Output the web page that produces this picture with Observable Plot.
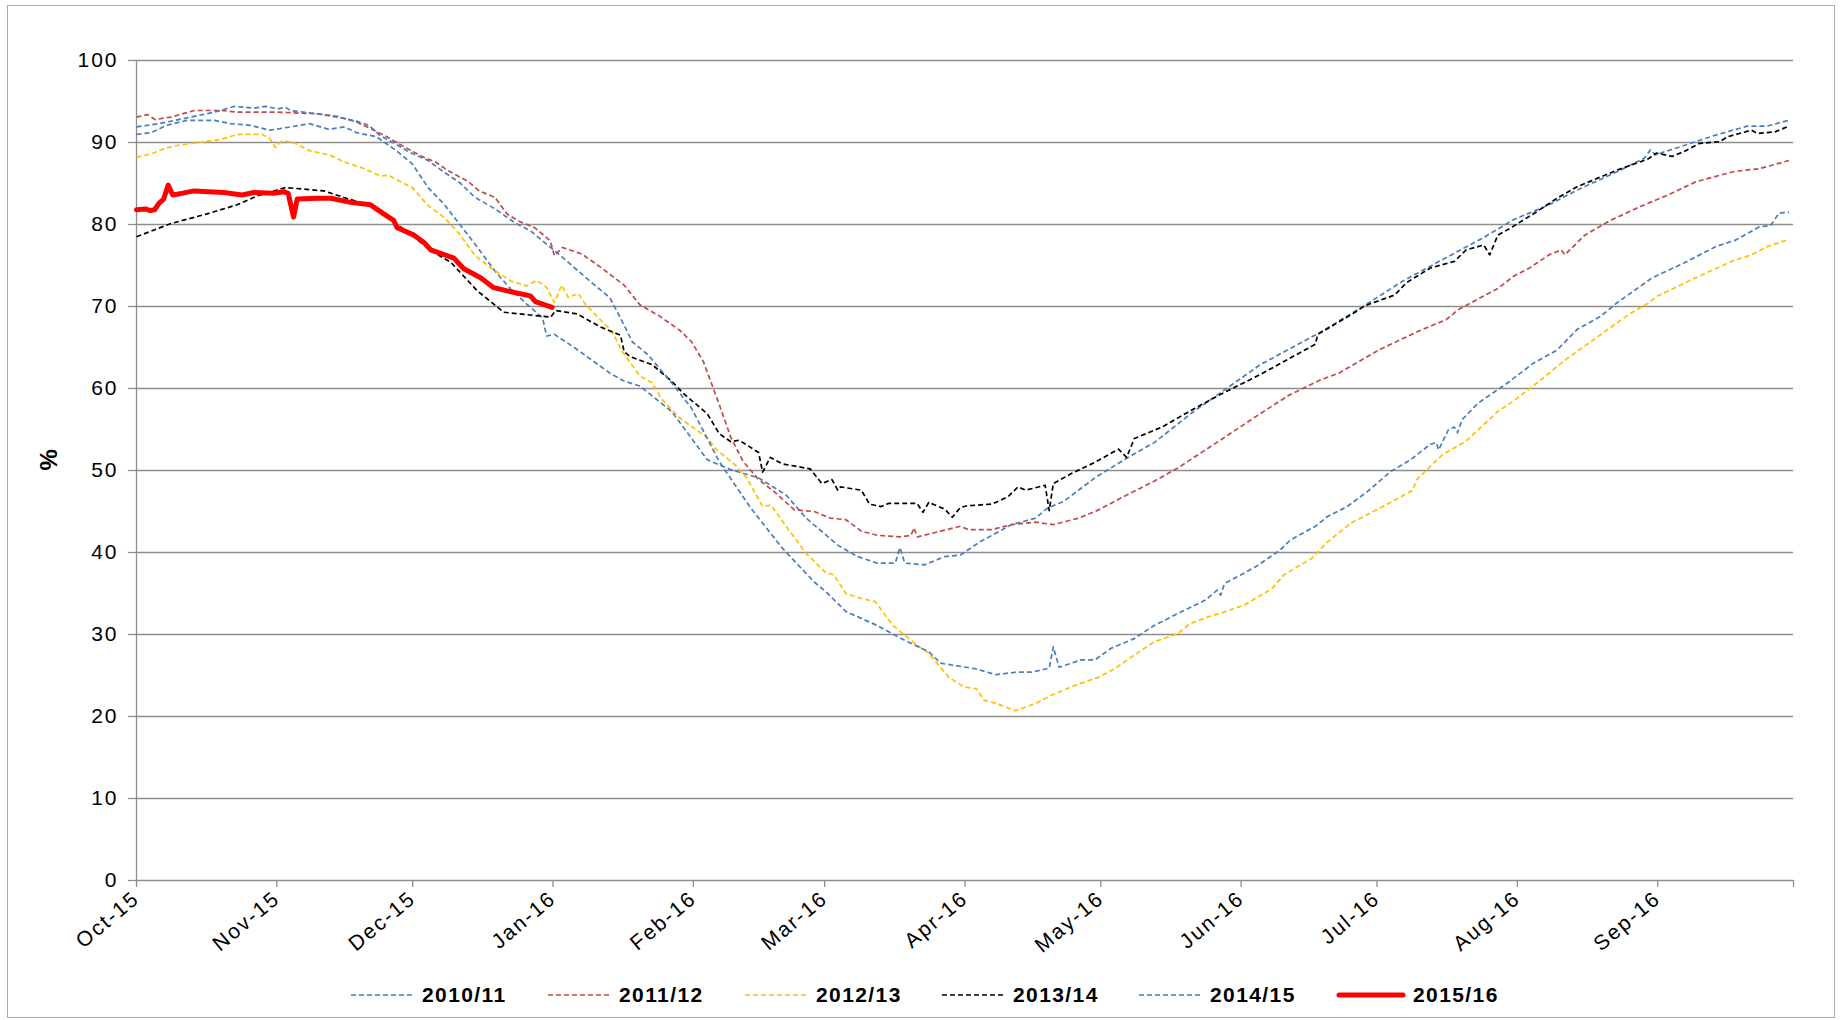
<!DOCTYPE html>
<html>
<head>
<meta charset="utf-8">
<script src="https://cdn.jsdelivr.net/npm/d3@7"></script>
<script src="https://cdn.jsdelivr.net/npm/@observablehq/plot@0.6"></script>
<style>
  html, body { margin: 0; padding: 0; background: #fff; }
  #wrap { position: relative; width: 1841px; height: 1020px; overflow: hidden; font-family: "Liberation Sans", Arial, sans-serif; }
  #frame { position: absolute; left: 7px; top: 5px; width: 1828px; height: 1013px; border: 1.5px solid #ababab; box-sizing: border-box; }
  #chart { position: absolute; left: 0; top: 0; }
  #chart svg text { letter-spacing: 2px; }
  #legend { position: absolute; left: 351px; top: 983px; display: flex; align-items: center; }
  .item { display: flex; align-items: center; width: 197px; }
  .item span { font-weight: bold; font-size: 21px; letter-spacing: 1.4px; margin-left: 7px; color: #000; }
</style>
</head>
<body>
<div id="wrap">
  <div id="frame"></div>
  <div id="chart"></div>
  <div id="legend"></div>
</div>
<script>
// ---- data (day index from 1 Oct of the gas year, % full) ----
const seriesNames = ["2010/11", "2011/12", "2012/13", "2013/14", "2014/15", "2015/16"];
const seriesColors = ["#4A7EBB", "#BE4B48", "#FFC000", "#000000", "#4A7EBB", "#FF0000"];

const s2010 = [[0,91.0],[3.2,91.2],[6.7,92.1],[11.1,92.7],[17.2,92.7],[20.7,92.3],[25.1,92.1],[29.4,91.5],[32.9,91.8],[38.2,92.3],[42.5,91.6],[46,91.9],[48.6,91.2],[53,90.7],[57.4,89.0],[60.9,87.4],[64.4,84.5],[67.9,82.5],[71.4,80.0],[74.8,77.6],[79.2,74.3],[82.7,72.1],[86.2,70.3],[89.7,68.6],[90.6,66.4],[92.3,66.6],[96.7,65.0],[101,63.3],[104.5,61.9],[107.7,60.9],[111.2,60.3],[118.2,57.2],[126.1,51.3],[131.3,50.1],[137.4,49.1],[143.5,47.0],[147.9,44.2],[154.9,40.9],[159.3,39.5],[163.6,38.7],[167.6,38.7],[168.6,40.6],[169.7,38.7],[174.1,38.5],[178.5,39.5],[182,39.7],[186.3,41.3],[193.3,43.4],[198.6,44.2],[201.2,45.4],[204.7,46.2],[211.7,49.1],[218.7,51.5],[224.8,53.4],[233.5,57.2],[239.5,59.5],[248.2,62.9],[261.3,66.8],[270.9,70.0],[279.7,73.1],[288.4,75.7],[297.2,78.3],[304.2,80.6],[312,82.4],[318.2,84.2],[326.9,86.4],[333.1,88.1],[334.4,89.1],[335.5,88.5],[344.4,90.1],[348.8,90.9],[355.8,92.0],[360.2,92.0],[364.2,92.6],[365,92.7]];

const s2011 = [[0,93.1],[2.4,93.4],[4.1,92.8],[7.6,93.1],[12.8,93.9],[18.9,93.9],[22.4,93.7],[31.2,93.7],[39.9,93.5],[44.3,93.2],[48.6,92.5],[52.1,91.6],[55.6,90.6],[60,89.2],[63.5,88.2],[66.1,87.6],[68.7,86.6],[73.1,85.3],[75.7,84.1],[79.2,83.3],[81.8,81.3],[84.5,80.4],[88,79.6],[91.4,78.0],[92.3,76.2],[94.1,77.2],[98.4,76.4],[102.5,74.8],[107.7,72.6],[111.2,70.2],[115.6,68.8],[120,67.1],[122.6,65.7],[125.2,63.3],[128.3,58.7],[131.3,54.0],[134,51.1],[137.4,48.9],[140.9,47.4],[145.3,45.2],[149.7,45.0],[153.2,44.2],[156.7,44.0],[160.1,42.6],[163.6,42.1],[168.9,41.9],[171.1,42.1],[171.7,43.0],[172.5,41.9],[177.6,42.6],[182,43.2],[183.7,42.8],[189,42.8],[193.3,43.4],[198.6,43.7],[202.5,43.4],[208.2,44.2],[212.5,45.2],[218.7,47.0],[224.8,48.7],[230,50.3],[239.4,53.7],[247.3,56.6],[254.3,59.1],[261.3,61.0],[265.7,61.9],[274.4,64.7],[283.2,67.0],[289.3,68.4],[291.9,69.6],[300.7,72.2],[304.2,73.7],[307.7,74.7],[312,76.3],[314.7,76.9],[315.5,76.3],[319.9,78.7],[325.2,80.4],[332.2,82.2],[338.3,83.6],[344.4,85.2],[349.7,86.0],[353.2,86.5],[358.4,86.8],[365,87.8]];

const s2012 = [[0,88.2],[3.2,88.6],[5.9,89.2],[8.5,89.6],[13.7,90.0],[18.9,90.4],[22.4,91.0],[27.7,91.0],[29.4,90.5],[30.7,89.4],[32.1,90.2],[34.7,90.0],[38.2,89.0],[42.5,88.5],[46,87.6],[50.4,86.8],[53.9,85.9],[55.6,86.0],[60.9,84.5],[64.4,82.3],[67.9,80.9],[71.4,78.8],[74.8,76.2],[78.3,74.7],[82.7,73.1],[86.2,72.5],[88.4,73.2],[90.6,72.3],[92.3,70.5],[93.9,72.6],[95.4,71.1],[97.6,71.6],[99.1,70.3],[102.8,68.2],[105.1,66.9],[107.3,64.5],[111.2,61.5],[113.9,60.7],[116,58.7],[120,56.4],[126.1,54.0],[127.8,52.7],[132.2,50.7],[134.8,49.1],[138.3,45.6],[140.1,45.8],[143.5,43.2],[147.9,39.9],[152.3,37.5],[154,37.3],[156.7,35.0],[160.1,34.4],[163.2,34.0],[167.1,31.1],[172.4,28.7],[175,27.7],[179.4,24.8],[182.8,23.6],[185.5,23.4],[187.2,22.0],[189.8,21.6],[194.2,20.7],[198.6,21.6],[202.1,22.6],[207.3,23.8],[212.5,24.8],[216,25.8],[220.4,27.5],[224.8,29.1],[230,30.1],[232.6,31.3],[237,32.2],[239.5,32.6],[244.7,33.6],[250.8,35.6],[253.5,37.3],[259.6,39.3],[263.1,41.3],[268.3,43.6],[275.3,45.6],[281.9,47.6],[282.8,48.9],[288.4,51.9],[293.7,53.6],[300.7,57.2],[304.2,58.5],[309.4,60.7],[315.6,63.5],[322.5,66.2],[329.5,69.0],[333.9,70.4],[335.7,71.2],[344.4,73.5],[352.3,75.5],[356.7,76.3],[360.2,77.3],[364.5,78.1]];

const s2013 = [[0,78.5],[7.5,80.1],[15.6,81.3],[22.2,82.4],[26.7,83.5],[32.9,84.5],[41.4,84.1],[45.8,83.3],[51.7,82.3],[56.1,80.6],[61.3,78.5],[65,76.8],[69.4,75.4],[75.3,71.9],[78.9,70.3],[81.1,69.3],[91.5,68.7],[92.6,69.5],[97.3,69.1],[102.5,67.5],[106.9,66.5],[107.7,64.5],[109,63.9],[113.9,62.9],[118.2,60.9],[120.8,59.4],[126.1,56.9],[128.7,54.5],[131.3,53.5],[133.1,53.7],[137.4,52.2],[138.3,49.8],[140,51.6],[142.7,50.8],[148.8,50.2],[151.4,48.4],[153.6,48.9],[154.9,47.6],[155.5,48.0],[160.1,47.6],[161.9,45.9],[164.5,45.6],[166.2,46.0],[172.4,46.0],[173.7,44.9],[175,46.1],[178.5,45.3],[180.2,44.3],[182,45.5],[183.5,45.7],[189,45.9],[192.5,46.8],[194.7,48.0],[196.4,47.6],[200.7,48.2],[201.6,45.1],[202.5,48.4],[206.4,49.6],[211.7,51.0],[216.9,52.6],[218.7,51.6],[220.4,53.9],[226.5,55.3],[233.5,57.5],[239.5,59.3],[248.2,61.7],[260.4,65.4],[260.9,66.6],[268.3,69.0],[271.4,70.1],[277.9,71.4],[280.5,72.9],[285.8,74.7],[291.1,75.5],[293.7,76.9],[297.6,77.5],[298.9,76.3],[300.7,78.7],[303.3,79.5],[309.4,81.6],[313.8,83.2],[318.2,84.6],[326.9,86.6],[333.9,88.0],[335.7,88.7],[339.2,88.3],[341.8,88.9],[345.3,89.9],[349.7,90.1],[351.4,90.7],[356.7,91.5],[358,91.1],[361.9,91.3],[365,92.0]];

const s2014 = [[0,91.9],[5,92.3],[12,93.1],[17.2,93.7],[21.6,94.4],[26,94.2],[28.6,94.4],[31.2,94.1],[32.9,94.3],[34,93.9],[39.9,93.5],[44.3,93.1],[48.6,92.6],[51.3,92.1],[53.9,90.8],[57,89.9],[60,88.9],[64.4,87.8],[67.9,86.4],[71.4,85.1],[74.8,83.3],[79.2,81.9],[83.6,80.2],[87.1,79.2],[89.7,78.0],[94.1,76.0],[97.6,74.3],[101,72.7],[104.5,71.1],[107,68.5],[109.5,65.7],[113,64.1],[118.2,60.7],[122.6,57.6],[128.7,51.1],[135.7,45.4],[142.7,40.5],[149.7,36.4],[152.3,35.2],[156.7,32.8],[163.6,31.1],[168.9,29.5],[175,27.9],[177.6,26.5],[185.5,25.8],[189.8,25.1],[194.2,25.4],[197.7,25.4],[201.6,25.9],[202.5,28.5],[203.8,26.0],[208.6,26.9],[211.7,26.9],[215.2,28.3],[220.4,29.5],[224.8,31.1],[230.9,32.8],[236.1,34.2],[238.7,35.4],[239.5,34.8],[240.3,36.2],[244.7,37.5],[247.3,38.3],[252.6,40.3],[254.8,41.5],[260.4,43.2],[263.1,44.4],[267.4,45.6],[271.8,47.4],[277.1,49.9],[281.4,51.3],[285.8,53.2],[287.1,53.4],[287.6,52.5],[289.8,55.0],[291.1,55.3],[291.8,54.6],[292.8,56.2],[296.3,58.2],[302.4,60.5],[308.6,63.1],[313.8,64.7],[318.2,67.2],[323.4,68.8],[326.9,70.4],[334.8,73.5],[341.8,75.3],[348.8,77.3],[353.2,78.1],[358.4,79.7],[361,79.9],[362.8,81.4],[365,81.5]];

const s2015 = [[0,81.8],[2,81.9],[3,81.7],[4,81.8],[5,82.6],[6,83.1],[7,84.8],[8,83.6],[10,83.8],[12.7,84.1],[16,84.0],[19.3,83.9],[23.3,83.6],[25.9,83.9],[30.3,83.8],[32.5,84.0],[33.5,83.8],[34.7,80.9],[35.5,83.1],[39.9,83.2],[42.9,83.2],[47.3,82.7],[51.7,82.4],[54.6,81.3],[56.8,80.5],[57.6,79.6],[61.3,78.7],[63.5,77.8],[65,76.9],[70.1,75.9],[72.3,74.6],[76,73.5],[78.9,72.3],[81.9,71.9],[87,71.3],[88.1,70.6],[91.8,69.9]];

const seriesValues = [s2010, s2011, s2012, s2013, s2014, s2015];

const yTicks = [0, 10, 20, 30, 40, 50, 60, 70, 80, 90, 100];
const xTickLabels = ["Oct-15", "Nov-15", "Dec-15", "Jan-16", "Feb-16", "Mar-16", "Apr-16", "May-16", "Jun-16", "Jul-16", "Aug-16", "Sep-16", ""];
const yLabel = "%";

// ---- build ----
const start = new Date(Date.UTC(2015, 9, 1));
const end = new Date(Date.UTC(2016, 9, 1));
const toDate = d => new Date(start.getTime() + d * 864e5);
const xTicks = d3.utcMonth.range(start, d3.utcDay.offset(end, 1));
const grid = "#8e8e8e";

const lineMarks = seriesValues.map((vals, i) => {
  const rows = vals.map(([d, v]) => ({date: toDate(d), value: v}));
  const last = i === seriesValues.length - 1;
  return Plot.line(rows, {
    x: "date", y: "value",
    stroke: seriesColors[i],
    strokeWidth: last ? 5 : 1.7,
    strokeDasharray: last ? null : "5,3",
    strokeLinejoin: "round",
    strokeLinecap: last ? "round" : "butt"
  });
});

const chart = Plot.plot({
  width: 1841,
  height: 960,
  marginLeft: 136,
  marginRight: 48,
  marginTop: 60,
  marginBottom: 80,
  style: {fontFamily: "'Liberation Sans', Arial, sans-serif", fontSize: "21px", color: "#000", background: "transparent", overflow: "visible"},
  x: {type: "utc", domain: [start, end]},
  y: {domain: [0, 100]},
  marks: [
    Plot.ruleY(yTicks, {stroke: grid, strokeWidth: 1.3}),
    Plot.ruleX([start], {stroke: grid, strokeWidth: 1.3}),
    Plot.axisY({ticks: yTicks, tickSize: 8, tickPadding: 10, label: null, stroke: grid, fill: "#000", strokeWidth: 1.3}),
    Plot.axisX({ticks: xTicks, tickSize: 7, tickPadding: 8, tickRotate: -40, label: null, stroke: grid, fill: "#000", strokeWidth: 1.3,
      tickFormat: d => xTickLabels[d3.utcMonth.count(start, d)] ?? ""}),
    ...lineMarks,
    Plot.text([yLabel], {frameAnchor: "left", text: d => d, dx: -87, rotate: -90, fontWeight: "bold", fontSize: 24, fill: "#000"})
  ]
});
document.getElementById("chart").appendChild(chart);

// legend
const legend = document.getElementById("legend");
seriesNames.forEach((name, i) => {
  const last = i === seriesNames.length - 1;
  const item = document.createElement("div");
  item.className = "item";
  const sw = d3.create("svg").attr("width", last ? 70 : 64).attr("height", 12);
  sw.append("line").attr("x1", last ? 3 : 0).attr("x2", last ? 67 : 64).attr("y1", 6).attr("y2", 6)
    .attr("stroke", seriesColors[i]).attr("stroke-width", last ? 5 : 1.7)
    .attr("stroke-dasharray", last ? null : "5,3").attr("stroke-linecap", last ? "round" : "butt");
  item.appendChild(sw.node());
  const t = document.createElement("span");
  t.textContent = name;
  item.appendChild(t);
  legend.appendChild(item);
});
</script>
</body>
</html>
